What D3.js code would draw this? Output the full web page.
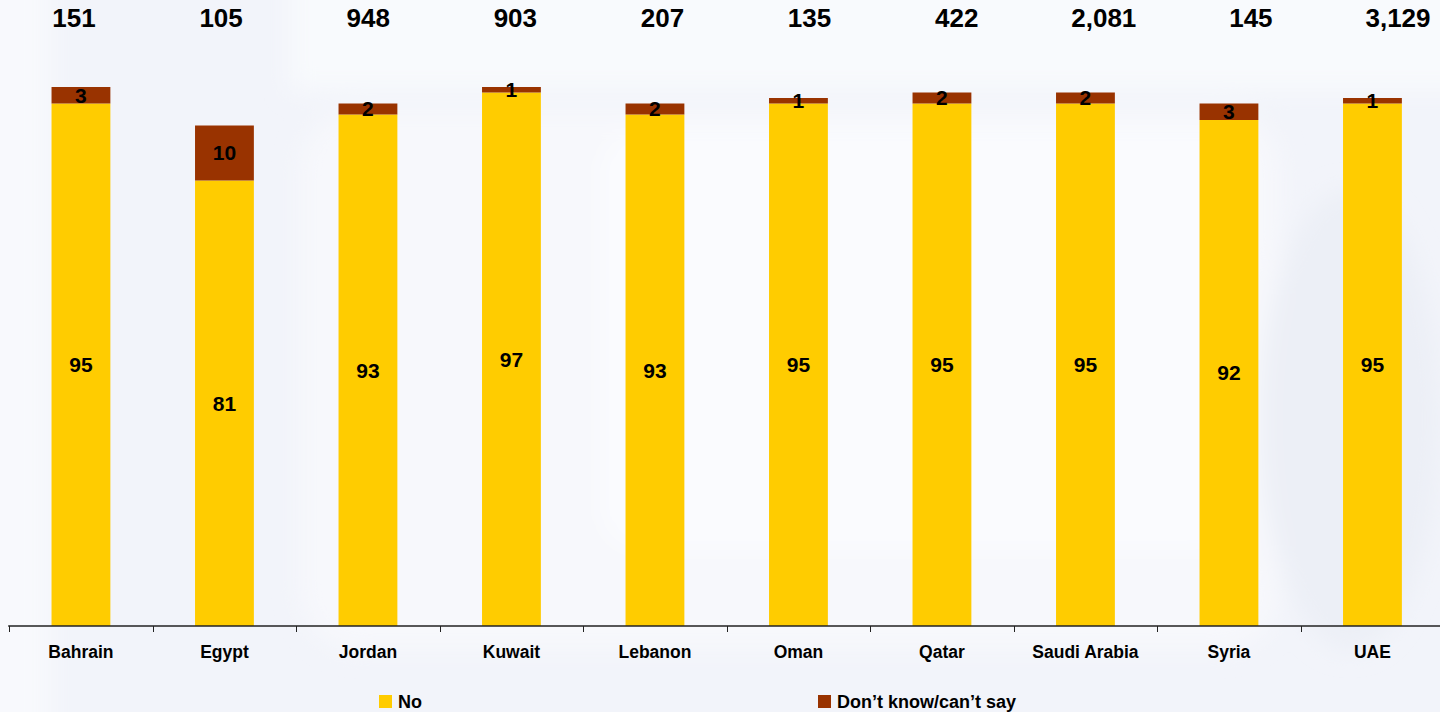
<!DOCTYPE html>
<html>
<head>
<meta charset="utf-8">
<script src="https://cdn.jsdelivr.net/npm/d3@7"></script>
<style>
  html, body { margin: 0; padding: 0; background: #f2f4fa; }
  svg { display: block; }
  text { font-family: "Liberation Sans", Arial, sans-serif; font-weight: bold; fill: #000; }
</style>
</head>
<body>
<svg id="chart"></svg>
<script>
// chart data
var countries = ["Bahrain", "Egypt", "Jordan", "Kuwait", "Lebanon", "Oman", "Qatar", "Saudi Arabia", "Syria", "UAE"];
var noValues = [95, 81, 93, 97, 93, 95, 95, 95, 92, 95];
var dontKnowValues = [3, 10, 2, 1, 2, 1, 2, 2, 3, 1];
var sampleSizes = ["151", "105", "948", "903", "207", "135", "422", "2,081", "145", "3,129"];
var seriesNames = ["No", "Don\u2019t know/can\u2019t say"];
var colors = ["#ffcc00", "#993300"];

var width = 1440, height = 712;
var margin = {left: 9.2, right: -4.2, top: 76, bottom: 86};

var svg = d3.select("#chart")
  .attr("width", width)
  .attr("height", height);

// faint watermark-like background
var defs = svg.append("defs");
defs.append("filter").attr("id", "blur")
  .attr("x", "-20%").attr("y", "-20%").attr("width", "140%").attr("height", "140%")
  .append("feGaussianBlur").attr("stdDeviation", 12);

svg.append("rect").attr("width", width).attr("height", height).attr("fill", "#f2f4fa");
var bg = svg.append("g").attr("filter", "url(#blur)");
bg.append("rect").attr("x", -30).attr("y", -30).attr("width", 80).attr("height", 780).attr("fill", "#f8f9fd");
bg.append("rect").attr("x", 290).attr("y", -40).attr("width", 1200).attr("height", 130).attr("fill", "#f8fafd");
bg.append("rect").attr("x", 300).attr("y", 110).attr("width", 980).attr("height", 540)
  .attr("rx", 60).attr("fill", "#f7f8fc");
bg.append("rect").attr("x", 600).attr("y", 130).attr("width", 640).attr("height", 420)
  .attr("rx", 40).attr("fill", "#fafbfe");
bg.append("ellipse").attr("cx", 1350).attr("cy", 420).attr("rx", 90).attr("ry", 230).attr("fill", "#eceff6");

// scales
var x = d3.scaleBand()
  .domain(countries)
  .range([margin.left, width - margin.right])
  .padding(0);

// header labels sit on their own, slightly wider spacing
var xHeader = d3.scalePoint()
  .domain(countries)
  .range([74, 1398]);

var y = d3.scaleLinear()
  .domain([0, 100])
  .range([height - margin.bottom, margin.top]);

var barWidth = x.bandwidth() * 0.41;

// stacked bars
var rows = countries.map(function(c, i) {
  return {country: c, no: noValues[i], dk: dontKnowValues[i], n: sampleSizes[i]};
});
var layers = d3.stack().keys(["no", "dk"])(rows);

var layer = svg.selectAll("g.layer")
  .data(layers)
  .enter()
  .append("g")
  .attr("class", "layer")
  .attr("fill", function(d, i) { return colors[i]; });

layer.selectAll("rect")
  .data(function(d) { return d; })
  .enter()
  .append("rect")
  .attr("x", function(d) { return x(d.data.country) + (x.bandwidth() - barWidth) / 2; })
  .attr("width", barWidth)
  .attr("y", function(d) { return y(d[1]); })
  .attr("height", function(d) { return y(d[0]) - y(d[1]); });

// segment labels
layer.selectAll("text")
  .data(function(d) { return d; })
  .enter()
  .append("text")
  .attr("x", function(d) { return x(d.data.country) + x.bandwidth() / 2; })
  .attr("y", function(d) { return (y(d[0]) + y(d[1])) / 2; })
  .attr("dy", "0.35em")
  .attr("text-anchor", "middle")
  .attr("font-size", 21)
  .text(function(d) { return d[1] - d[0]; });

// sample sizes on top
svg.selectAll("text.nsize")
  .data(rows)
  .enter()
  .append("text")
  .attr("class", "nsize")
  .attr("x", function(d) { return xHeader(d.country); })
  .attr("y", 27)
  .attr("text-anchor", "middle")
  .attr("font-size", 26)
  .text(function(d) { return d.n; });

// x axis
var xAxis = svg.append("g")
  .attr("transform", "translate(0," + y(0) + ")");
xAxis.append("line")
  .attr("x1", margin.left - 1).attr("x2", width)
  .attr("stroke", "#222").attr("stroke-width", 1.5);
xAxis.selectAll("line.tick")
  .data(countries)
  .enter()
  .append("line")
  .attr("class", "tick")
  .attr("x1", function(d) { return Math.round(x(d)) + 0.5; })
  .attr("x2", function(d) { return Math.round(x(d)) + 0.5; })
  .attr("y1", 0).attr("y2", 6)
  .attr("stroke", "#222");
xAxis.selectAll("text")
  .data(countries)
  .enter()
  .append("text")
  .attr("x", function(d) { return x(d) + x.bandwidth() / 2; })
  .attr("y", 32)
  .attr("text-anchor", "middle")
  .attr("font-size", 17.5)
  .text(function(d) { return d; });

// legend
var legendX = [379, 818];
var legend = svg.selectAll("g.legend")
  .data(seriesNames)
  .enter()
  .append("g")
  .attr("class", "legend")
  .attr("transform", function(d, i) { return "translate(" + legendX[i] + ",695)"; });
legend.append("rect")
  .attr("width", 13).attr("height", 13)
  .attr("fill", function(d, i) { return colors[i]; });
legend.append("text")
  .attr("x", 19).attr("y", 13)
  .attr("font-size", 18)
  .text(function(d) { return d; });
</script>
</body>
</html>
